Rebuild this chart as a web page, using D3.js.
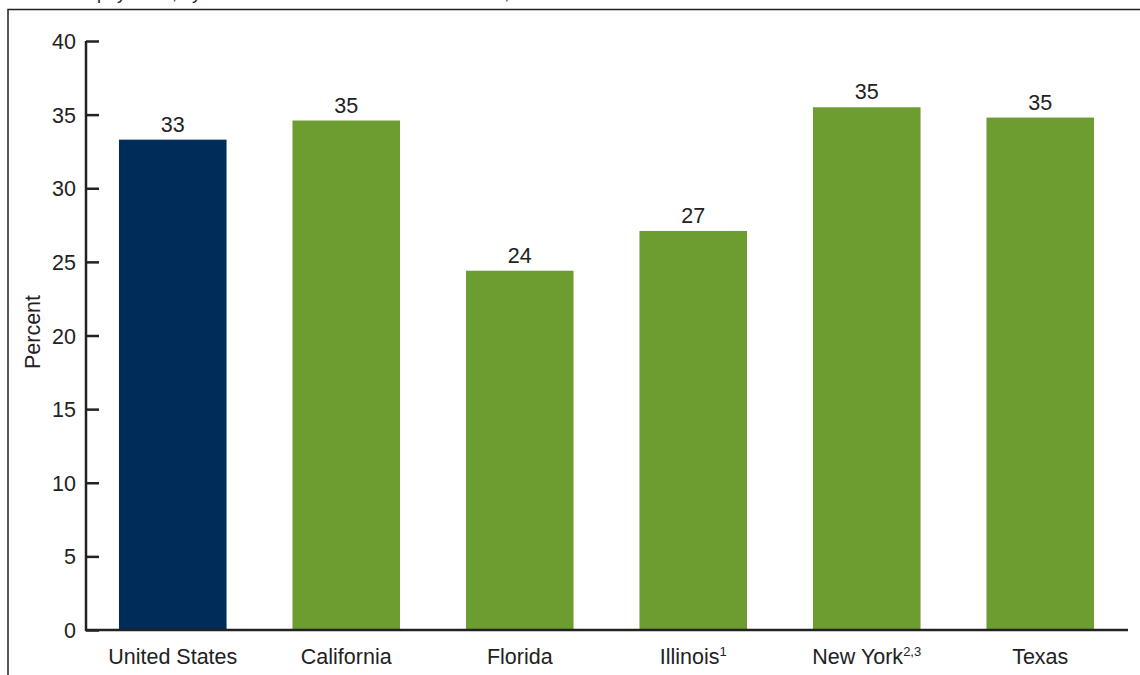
<!DOCTYPE html>
<html><head><meta charset="utf-8">
<script src="https://cdn.jsdelivr.net/npm/d3@7"></script>
<style>body{margin:0;background:#fff}svg{display:block;font-family:"Liberation Sans",Arial,sans-serif}</style>
</head><body><svg id="c" width="1140" height="675"></svg>
<script>
const categories = ["United States","California","Florida","Illinois","New York","Texas"];
const superscripts = ["","","","1","2,3",""];
const values = [33.3, 34.6, 24.4, 27.1, 35.5, 34.8];
const labels = ["33","35","24","27","35","35"];
const yTicks = [0,5,10,15,20,25,30,35,40];
const colors = ["#002c5a","#6d9d31","#6d9d31","#6d9d31","#6d9d31","#6d9d31"];
const FS = 21.5;

const svg = d3.select("#c");
// partial title line cut off at top
svg.append("text").attr("x",97).attr("y",-1).attr("font-size",18).attr("fill","#222")
  .text("physician, by selected states and the United States, 2019");
// frame
svg.append("rect").attr("x",8).attr("y",9.5).attr("width",1200).attr("height",700)
  .attr("fill","none").attr("stroke","#222").attr("stroke-width",1.5);

const x = d3.scaleBand().domain(categories).range([86,1127]).paddingInner(0.38).paddingOuter(0.19);
const y = d3.scaleLinear().domain([0,40]).range([630,41]);

svg.selectAll("rect.bar").data(values).join("rect").attr("class","bar")
  .attr("x",(d,i)=>x(categories[i])).attr("width",x.bandwidth())
  .attr("y",d=>y(d)).attr("height",d=>y(0)-y(d)).attr("fill",(d,i)=>colors[i]);

svg.selectAll("text.val").data(values).join("text").attr("class","val")
  .attr("x",(d,i)=>x(categories[i])+x.bandwidth()/2).attr("y",d=>y(d)-8)
  .attr("text-anchor","middle").attr("font-size",FS).attr("fill","#222")
  .text((d,i)=>labels[i]);

const yAxis = d3.axisRight(y).tickValues(yTicks).tickSize(13).tickFormat(d3.format("d"));
const gy = svg.append("g").attr("transform","translate(86,0)").call(yAxis);
gy.select(".domain").attr("stroke","#222").attr("stroke-width",2.5).attr("d","M0,41V631");
gy.selectAll(".tick line").attr("stroke","#222").attr("stroke-width",2.5);
gy.selectAll(".tick text").attr("x",-10).attr("text-anchor","end").attr("font-size",FS).attr("fill","#222").attr("dy","0.35em");

const xAxis = d3.axisBottom(x).tickSize(0).tickFormat("");
const gx = svg.append("g").attr("transform","translate(0,630)").call(xAxis);
gx.select(".domain").attr("stroke","#222").attr("stroke-width",2.5).attr("d","M85,0H1128");

const cl = svg.selectAll("text.cat").data(categories).join("text").attr("class","cat")
  .attr("x",d=>x(d)+x.bandwidth()/2).attr("y",664).attr("text-anchor","middle")
  .attr("font-size",FS).attr("fill","#222");
cl.append("tspan").text(d=>d);
cl.append("tspan").attr("font-size",13).attr("dy",-8).text((d,i)=>superscripts[i]);

svg.append("text").attr("transform","translate(40,332) rotate(-90)").attr("text-anchor","middle")
  .attr("font-size",FS).attr("fill","#222").text("Percent");
</script></body></html>
